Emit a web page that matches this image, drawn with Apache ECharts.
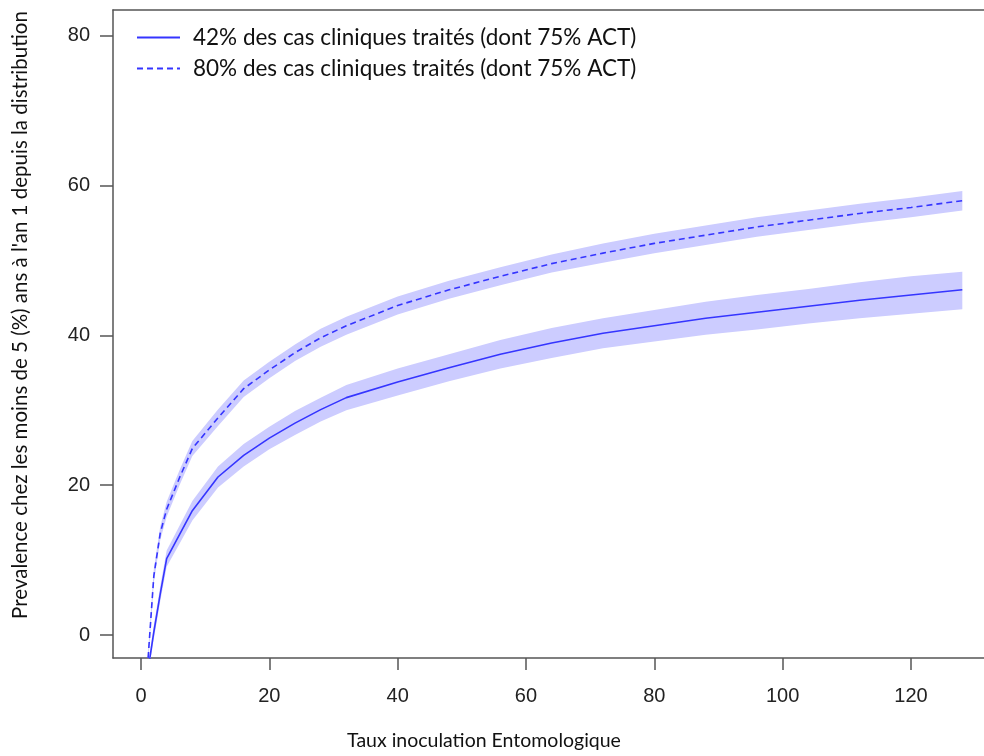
<!DOCTYPE html>
<html>
<head>
<meta charset="utf-8">
<script src="https://cdn.jsdelivr.net/npm/echarts@6/dist/echarts.min.js"></script>
<style>
  html, body { margin: 0; padding: 0; background: #fff; }
  #chart { width: 984px; height: 756px; }
</style>
</head>
<body>
<div id="chart"></div>
<script>
// Taux inoculation Entomologique (EIR)
const eir = [1, 2, 3, 4, 6, 8, 12, 16, 20, 24, 28, 32, 40, 48, 56, 64, 72, 80, 88, 96, 104, 112, 120, 128];

// 42% des cas cliniques traites
const treated42 = [-5.2, 0.4, 5.5, 10.2, 13.4, 16.6, 21.1, 24.0, 26.3, 28.3, 30.1, 31.7, 33.8, 35.7, 37.5, 39.0, 40.3, 41.3, 42.3, 43.1, 43.9, 44.7, 45.4, 46.1];
const treated42Low = [-6.0, -0.5, 4.5, 9.1, 12.2, 15.3, 19.7, 22.5, 24.8, 26.7, 28.5, 30.0, 32.0, 33.9, 35.6, 37.0, 38.3, 39.2, 40.1, 40.8, 41.6, 42.3, 42.9, 43.5];
const treated42High = [-4.4, 1.3, 6.5, 11.3, 14.6, 17.9, 22.5, 25.5, 27.8, 29.9, 31.7, 33.4, 35.6, 37.5, 39.4, 41.0, 42.3, 43.4, 44.5, 45.4, 46.2, 47.1, 47.9, 48.5];

// 80% des cas cliniques traites
const treated80 = [-4.4, 7.9, 13.6, 16.8, 21.0, 24.9, 29.0, 32.9, 35.4, 37.7, 39.7, 41.3, 44.0, 46.1, 47.9, 49.6, 51.0, 52.3, 53.4, 54.5, 55.4, 56.3, 57.1, 58.0];
const treated80Low = [-5.2, 7.0, 12.7, 15.8, 20.0, 23.9, 27.9, 31.8, 34.3, 36.6, 38.5, 40.1, 42.8, 44.9, 46.7, 48.4, 49.7, 51.0, 52.1, 53.2, 54.1, 55.0, 55.8, 56.7];
const treated80High = [-3.6, 8.8, 14.5, 17.8, 22.0, 25.9, 30.1, 34.0, 36.5, 38.8, 40.9, 42.5, 45.2, 47.3, 49.1, 50.8, 52.3, 53.6, 54.7, 55.8, 56.7, 57.6, 58.4, 59.3];

const xTicks = [0, 20, 40, 60, 80, 100, 120];
const yTicks = [0, 20, 40, 60, 80];

const name42 = '42% des cas cliniques traités (dont 75% ACT)';
const name80 = '80% des cas cliniques traités (dont 75% ACT)';

const lineColor = '#3535ff';
const bandColor = '#ccccff';
const axisColor = '#555';
const font = 'Lato, "Open Sans", sans-serif';
const tickFont = '"Liberation Sans", Arial, sans-serif';

function pairs(xs, ys) {
  return xs.map((x, i) => [x, ys[i]]);
}

function bandSeries(low, high) {
  return {
    type: 'custom',
    silent: true,
    clip: true,
    z: 1,
    data: [0],
    renderItem: function (params, api) {
      const pts = [];
      for (let i = 0; i < eir.length; i++) pts.push(api.coord([eir[i], high[i]]));
      for (let i = eir.length - 1; i >= 0; i--) pts.push(api.coord([eir[i], low[i]]));
      return { type: 'polygon', shape: { points: pts }, style: { fill: bandColor } };
    }
  };
}

const chart = echarts.init(document.getElementById('chart'), null, { renderer: 'canvas' });

chart.setOption({
  animation: false,
  backgroundColor: '#fff',
  grid: { left: 113, right: 0, top: 10, bottom: 98 },
  legend: {
    left: 136,
    top: 26,
    padding: 0,
    orient: 'vertical',
    itemWidth: 43,
    itemHeight: 22,
    itemGap: 8,
    data: [name42, name80],
    itemStyle: { opacity: 0 },
    textStyle: { fontFamily: font, fontSize: 22.5, color: '#111', padding: [0, 0, 0, 8] }
  },
  xAxis: [{
    type: 'value',
    min: -4.364,
    max: 131.38,
    splitLine: { show: false },
    axisLine: { show: true, onZero: false, lineStyle: { color: axisColor, width: 1.5 } },
    axisTick: { show: true, length: 12, customValues: xTicks, lineStyle: { color: axisColor, width: 1.5 } },
    axisLabel: { customValues: xTicks, margin: 28, fontFamily: tickFont, fontSize: 20, color: '#222' }
  }, {
    type: 'value',
    position: 'top',
    min: -4.364,
    max: 131.38,
    splitLine: { show: false },
    axisLine: { show: true, onZero: false, lineStyle: { color: axisColor, width: 1.5 } },
    axisTick: { show: false },
    axisLabel: { show: false }
  }],
  yAxis: {
    type: 'value',
    min: -3.072,
    max: 83.47,
    splitLine: { show: false },
    axisLine: { show: true, onZero: false, lineStyle: { color: axisColor, width: 1.5 } },
    axisTick: { show: true, length: 13, customValues: yTicks, lineStyle: { color: axisColor, width: 1.5 } },
    axisLabel: { customValues: yTicks, margin: 23, fontFamily: tickFont, fontSize: 20, color: '#222' }
  },
  graphic: [{
    type: 'text',
    x: 484,
    y: 741,
    style: {
      text: 'Taux inoculation Entomologique',
      font: '19.5px ' + font,
      fill: '#111',
      textAlign: 'center',
      textVerticalAlign: 'middle'
    }
  }, {
    type: 'text',
    x: 20,
    y: 315,
    rotation: Math.PI / 2,
    style: {
      text: "Prevalence chez les moins de 5 (%) ans à l'an 1 depuis la distribution",
      font: '20.5px ' + font,
      fill: '#111',
      textAlign: 'center',
      textVerticalAlign: 'middle'
    }
  }],
  series: [
    bandSeries(treated42Low, treated42High),
    bandSeries(treated80Low, treated80High),
    {
      name: name42,
      type: 'line',
      z: 3,
      showSymbol: false,
      symbol: 'none',
      clip: true,
      data: pairs(eir, treated42),
      lineStyle: { color: lineColor, width: 1.6 },
      itemStyle: { color: lineColor }
    },
    {
      name: name80,
      type: 'line',
      z: 3,
      showSymbol: false,
      symbol: 'none',
      clip: true,
      data: pairs(eir, treated80),
      lineStyle: { color: lineColor, width: 1.6, type: [6, 4] },
      itemStyle: { color: lineColor }
    }
  ]
});
</script>
</body>
</html>
